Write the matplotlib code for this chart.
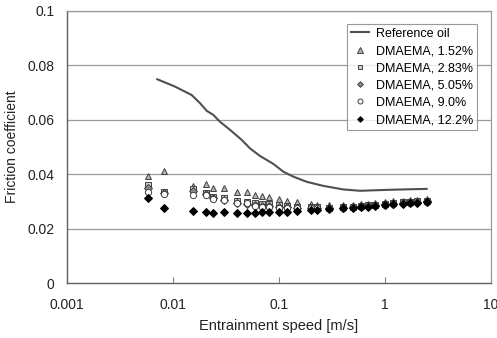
import matplotlib
matplotlib.use("Agg")
import matplotlib.pyplot as plt
from matplotlib.ticker import FixedLocator, FixedFormatter, NullLocator

plt.rcParams['font.family'] = ['Liberation Sans', 'DejaVu Sans']

# Reference oil Stribeck curve
ref_speed = [0.00711, 0.01045, 0.0150, 0.0180, 0.0208, 0.0240, 0.0277,
             0.0345, 0.0445, 0.0532, 0.0662, 0.0883, 0.110, 0.1365, 0.1825,
             0.262, 0.404, 0.581, 0.964, 1.49, 2.47]
ref_mu = [0.0749, 0.0722, 0.0691, 0.0661, 0.0633, 0.0618, 0.0593, 0.0563,
          0.0526, 0.0495, 0.0467, 0.0438, 0.0409, 0.0391, 0.0372, 0.0357,
          0.0344, 0.0339, 0.0342, 0.0344, 0.0346]

# Entrainment speeds shared by the DMAEMA measurements
speed = [0.0058, 0.00822, 0.01545, 0.0205, 0.0238, 0.0303, 0.0402, 0.0499,
         0.0594, 0.0691, 0.0805, 0.100, 0.119, 0.148, 0.200, 0.228, 0.296,
         0.402, 0.499, 0.594, 0.692, 0.805, 1.00, 1.19, 1.48, 1.72, 2.00, 2.49]

mu_152 = [0.0395, 0.0410, 0.0357, 0.0364, 0.0350, 0.0350, 0.0335, 0.0335,
          0.0324, 0.0320, 0.0318, 0.0309, 0.0302, 0.0298, 0.0290, 0.0288,
          0.0286, 0.0287, 0.0288, 0.0290, 0.0292, 0.0294, 0.0297, 0.0300,
          0.0302, 0.0305, 0.0306, 0.0308]
mu_283 = [0.0360, 0.0335, 0.0346, 0.0330, 0.0318, 0.0312, 0.0300, 0.0297,
          0.0293, 0.0290, 0.0290, 0.0285, 0.0284, 0.0280, 0.0280, 0.0279,
          0.0276, 0.0278, 0.0280, 0.0283, 0.0285, 0.0288, 0.0291, 0.0293,
          0.0296, 0.0298, 0.0300, 0.0302]
mu_505 = [0.0349, 0.0330, 0.0340, 0.0328, 0.0312, 0.0306, 0.0295, 0.0292,
          0.0287, 0.0284, 0.0283, 0.0280, 0.0279, 0.0277, 0.0277, 0.0277,
          0.0275, 0.0277, 0.0279, 0.0282, 0.0284, 0.0287, 0.0290, 0.0292,
          0.0295, 0.0297, 0.0299, 0.0301]
mu_90 = [0.0333, 0.0327, 0.0325, 0.0325, 0.0309, 0.0305, 0.0294, 0.0293,
         0.0283, 0.0280, 0.0280, 0.0276, 0.0276, 0.0274, 0.0275, 0.0275,
         0.0274, 0.0276, 0.0278, 0.0281, 0.0283, 0.0286, 0.0288, 0.0291,
         0.0293, 0.0295, 0.0297, 0.0299]
mu_122 = [0.0313, 0.0276, 0.0265, 0.0261, 0.0257, 0.0260, 0.0257, 0.0257,
          0.0259, 0.0260, 0.0260, 0.0260, 0.0262, 0.0265, 0.0268, 0.0269,
          0.0271, 0.0274, 0.0276, 0.0279, 0.0281, 0.0284, 0.0286, 0.0289,
          0.0291, 0.0293, 0.0295, 0.0297]

labels = ["Reference oil", "DMAEMA, 1.52%", "DMAEMA, 2.83%",
          "DMAEMA, 5.05%", "DMAEMA, 9.0%", "DMAEMA, 12.2%"]

x_ticks = [0.001, 0.01, 0.1, 1, 10]
x_tick_labels = ["0.001", "0.01", "0.1", "1", "10"]
y_ticks = [0, 0.02, 0.04, 0.06, 0.08, 0.1]
y_tick_labels = ["0", "0.02", "0.04", "0.06", "0.08", "0.1"]

fig = plt.figure(figsize=(4.97, 3.38), dpi=100)
ax = fig.add_axes([0.1348, 0.1627, 0.8532, 0.8048])

ax.set_xscale('log')
ax.set_xlim(0.001, 10)
ax.set_ylim(0, 0.1)

for y in y_ticks[1:]:
    ax.axhline(y, color='#9a9a9a', lw=0.9, zorder=0)

ax.plot(ref_speed, ref_mu, color='#505050', lw=1.5, label=labels[0], zorder=2)

edge = '#404040'
ms = 4.2
ax.plot(speed, mu_152, ls='none', marker='^', ms=ms + 0.6, mfc='#b4b4b4',
        mec=edge, mew=0.7, label=labels[1], zorder=3)
ax.plot(speed, mu_283, ls='none', marker='s', ms=ms - 0.4, mfc='#d0d0d0',
        mec=edge, mew=0.7, label=labels[2], zorder=3)
ax.plot(speed, mu_505, ls='none', marker='D', ms=ms - 0.6, mfc='#8c8c8c',
        mec=edge, mew=0.7, label=labels[3], zorder=3)
ax.plot(speed, mu_90, ls='none', marker='o', ms=ms + 0.3, mfc='white',
        mec=edge, mew=0.7, label=labels[4], zorder=3)
ax.plot(speed, mu_122, ls='none', marker='D', ms=ms - 0.6, mfc='black',
        mec='black', mew=0.7, label=labels[5], zorder=4)

ax.xaxis.set_major_locator(FixedLocator(x_ticks))
ax.xaxis.set_major_formatter(FixedFormatter(x_tick_labels))
ax.xaxis.set_minor_locator(NullLocator())
ax.yaxis.set_major_locator(FixedLocator(y_ticks))
ax.yaxis.set_major_formatter(FixedFormatter(y_tick_labels))

ax.tick_params(axis='x', direction='in', length=4, width=0.8, color='#808080',
               labelsize=10, pad=11, labelcolor='#222222')
ax.tick_params(axis='y', length=0, labelsize=10, pad=9, labelcolor='#222222')

for side in ['left', 'bottom']:
    ax.spines[side].set_color('#606060')
    ax.spines[side].set_linewidth(1.0)
for side in ['top', 'right']:
    ax.spines[side].set_color('#9a9a9a')
    ax.spines[side].set_linewidth(0.9)

ax.set_xlabel("Entrainment speed [m/s]", fontsize=10.5, color='#222222',
              labelpad=5)
ax.set_ylabel("Friction coefficient", fontsize=10, color='#222222',
              labelpad=6)

leg = ax.legend(loc='upper right', bbox_to_anchor=(0.967, 0.952), fontsize=9,
                frameon=True, fancybox=False, edgecolor='#808080',
                borderpad=0.3, labelspacing=0.42, handlelength=1.4,
                handletextpad=0.6, borderaxespad=0.0, markerscale=0.8)
leg.get_frame().set_linewidth(0.8)

fig.savefig("out.png", dpi=100)
